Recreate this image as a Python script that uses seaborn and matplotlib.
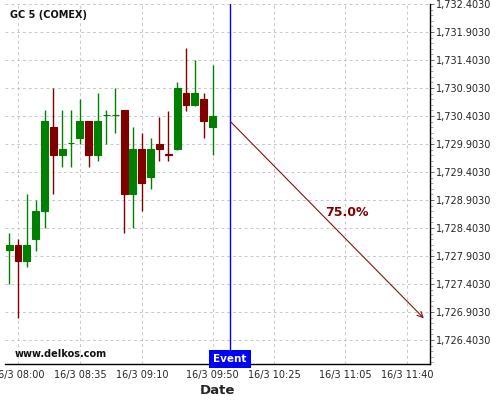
import matplotlib
matplotlib.use("Agg")
import matplotlib.pyplot as plt
import matplotlib.transforms as mtransforms
from matplotlib.ticker import FuncFormatter, MultipleLocator, FixedLocator
import numpy as np
import pandas as pd
import seaborn as sns

# candle data, 5 minute bars from 07:55
times = ['07:55', '08:00', '08:05', '08:10', '08:15', '08:20', '08:25', '08:30',
         '08:35', '08:40', '08:45', '08:50', '08:55', '09:00', '09:05', '09:10',
         '09:15', '09:20', '09:25', '09:30', '09:35', '09:40', '09:45', '09:50']
opens = [1728.010, 1728.099, 1727.814, 1728.212, 1728.712, 1730.207, 1729.712, 1729.916,
         1730.016, 1730.314, 1729.712, 1730.421, 1730.421, 1730.510, 1729.010, 1729.814,
         1729.319, 1729.903, 1729.730, 1729.819, 1730.814, 1730.605, 1730.707, 1730.212]
highs = [1728.308, 1728.201, 1729.005, 1728.903, 1730.510, 1730.898, 1730.510, 1730.510,
         1730.701, 1730.314, 1730.808, 1730.510, 1730.898, 1730.510, 1730.201, 1730.094,
         1730.005, 1730.390, 1730.498, 1731.005, 1731.612, 1731.403, 1730.808, 1731.314]
lows = [1727.403, 1726.790, 1727.701, 1727.998, 1728.398, 1729.005, 1729.498, 1729.498,
        1729.903, 1729.498, 1729.600, 1729.903, 1730.094, 1728.308, 1728.398, 1728.701,
        1729.094, 1729.600, 1729.600, 1729.796, 1730.498, 1730.587, 1730.005, 1729.707]
closes = [1728.099, 1727.814, 1728.099, 1728.707, 1730.314, 1729.712, 1729.814, 1729.916,
          1730.314, 1729.712, 1730.314, 1730.421, 1730.421, 1729.010, 1729.814, 1729.212,
          1729.814, 1729.814, 1729.710, 1730.898, 1730.605, 1730.814, 1730.319, 1730.403]

tick_times = ['08:00', '08:35', '09:10', '09:50', '10:25', '11:05', '11:40']
event_time = '10:00'
arrow_start_price = 1730.30
arrow_end_time = '11:49.5'
arrow_end_price = 1726.79
prob_label = '75.0%'


def to_idx(t):
    h, m = t.split(':')
    return (int(h) * 60 + float(m) - (7 * 60 + 55)) / 5 - 1


df = pd.DataFrame({'time': times, 'open': opens, 'high': highs, 'low': lows, 'close': closes})
df['x'] = [to_idx(t) for t in df['time']]
df['up'] = df['close'] >= df['open']

sns.set_style('white')
plt.rcParams['font.family'] = ['DejaVu Sans']

fig = plt.figure(figsize=(5, 4), dpi=100)
ax = fig.add_axes([0.01, 0.09, 0.85, 0.90])

green, red = '#008000', '#800000'
colors = [green if u else red for u in df['up']]

ax.vlines(df['x'], df['low'], df['high'], colors=colors, linewidth=1.0, zorder=3)
ax.bar(df['x'], (df['close'] - df['open']).abs(), bottom=df[['open', 'close']].min(axis=1),
       width=0.78, color=colors, edgecolor=colors, linewidth=0.8, zorder=4)

ymin, ymax = 1725.974, 1732.403
ax.set_ylim(ymin, ymax)
ax.set_xlim(-1.47, 46.6)

# axes styling
for s in ['left', 'top']:
    ax.spines[s].set_visible(False)
for s in ['right', 'bottom']:
    ax.spines[s].set_color('black')
    ax.spines[s].set_linewidth(1.0)

ax.yaxis.tick_right()
ax.yaxis.set_major_locator(MultipleLocator(0.5, offset=0.403))
ax.yaxis.set_minor_locator(MultipleLocator(0.1, offset=0.003))
ax.yaxis.set_major_formatter(FuncFormatter(lambda v, p: f'{v:,.4f}'))

xt = [to_idx(t) for t in tick_times]
ax.xaxis.set_major_locator(FixedLocator(xt))
ax.set_xticklabels(['16/3 ' + t for t in tick_times])
minor = []
for a, b in zip(xt[:-1], xt[1:]):
    minor += list(np.linspace(a, b, 5)[1:-1])
minor += [xt[-1] + (xt[-1] - xt[-2]) / 4]
ax.xaxis.set_minor_locator(FixedLocator(minor))

ax.tick_params(axis='both', which='major', labelsize=7, length=3, width=0.6, color='#555555', pad=1.5)
ax.tick_params(axis='both', which='minor', length=2, width=0.5, color='#888888')
ax.grid(True, which='major', color='#c8c8c8', linestyle=(0, (3, 3)), linewidth=0.7)
ax.set_axisbelow(True)

ax.set_xlabel('Date', fontsize=9.5, fontweight='bold', labelpad=3)

# event line and label
ev = to_idx(event_time)
ax.axvline(ev, color='#0000ff', linewidth=1.0, zorder=5)
trans = mtransforms.blended_transform_factory(ax.transData, ax.transAxes)
ax.text(ev, 0.0, 'Event', transform=trans, ha='center', va='bottom', color='white',
        fontsize=7.5, fontweight='bold', zorder=6,
        bbox=dict(boxstyle='square,pad=0.4', facecolor='#0000ff', edgecolor='none'))

# projection arrow
ax.annotate('', xy=(to_idx(arrow_end_time), arrow_end_price), xytext=(ev + 0.05, arrow_start_price),
            arrowprops=dict(arrowstyle='->', color='#8b1010', lw=0.8, shrinkA=0, shrinkB=0,
                            mutation_scale=10), zorder=5)
ax.text(37.2, 1728.68, prob_label, color='#800000', fontsize=9, fontweight='bold',
        ha='center', va='center')

ax.text(0.012, 0.97, 'GC 5 (COMEX)', transform=ax.transAxes, fontsize=7, fontweight='bold',
        ha='left', va='center', color='#111111')
ax.text(0.022, 0.028, 'www.delkos.com', transform=ax.transAxes, fontsize=7, fontweight='bold',
        ha='left', va='center', color='#111111')

fig.savefig('out.png', dpi=100)
